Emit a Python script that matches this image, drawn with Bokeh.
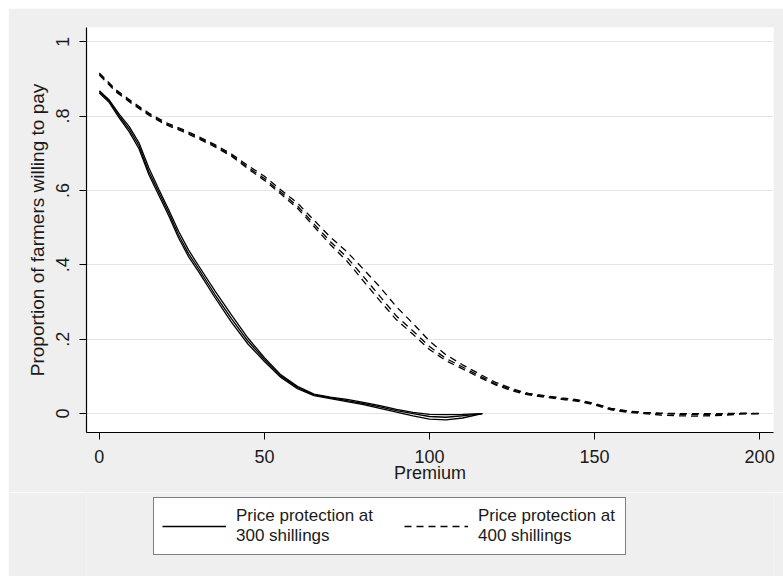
from bokeh.plotting import figure
from bokeh.layouts import column
from bokeh.models import FixedTicker, Legend, LegendItem, Range1d
from bokeh.embed import file_html
from bokeh.resources import INLINE

# ---- data ----
# Price protection at 300 shillings (three near-identical estimates)
x300 = [0, 3, 6, 9, 12, 15, 18, 21, 24, 27, 30, 35, 40, 45, 50, 55, 60, 65,
        70, 75, 80, 85, 90, 95, 100, 105, 110, 116]
y300_mid = [0.865, 0.840, 0.800, 0.765, 0.720, 0.650, 0.595, 0.540, 0.480, 0.430,
            0.390, 0.320, 0.255, 0.195, 0.145, 0.100, 0.070, 0.050, 0.042, 0.035,
            0.027, 0.018, 0.008, 0.000, -0.008, -0.010, -0.006, 0.000]
y300_hi = [0.868, 0.843, 0.805, 0.772, 0.728, 0.660, 0.603, 0.548, 0.490, 0.440,
           0.398, 0.330, 0.265, 0.203, 0.150, 0.104, 0.073, 0.052, 0.044, 0.038,
           0.030, 0.021, 0.011, 0.003, -0.002, -0.003, -0.002, 0.000]
y300_lo = [0.862, 0.836, 0.795, 0.758, 0.712, 0.642, 0.587, 0.532, 0.472, 0.422,
           0.382, 0.312, 0.246, 0.187, 0.140, 0.097, 0.067, 0.048, 0.040, 0.032,
           0.024, 0.014, 0.004, -0.006, -0.015, -0.017, -0.012, 0.000]

# Price protection at 400 shillings
x400 = [0, 5, 10, 15, 20, 25, 30, 35, 40, 45, 50, 55, 60, 65, 70, 75, 80, 85, 90,
        95, 100, 105, 110, 115, 120, 125, 130, 135, 140, 145, 150, 155, 160, 165,
        170, 175, 180, 185, 190, 195, 200]
y400_mid = [0.913, 0.868, 0.835, 0.805, 0.780, 0.762, 0.742, 0.720, 0.695, 0.662,
            0.632, 0.595, 0.558, 0.510, 0.462, 0.420, 0.368, 0.315, 0.262, 0.222,
            0.180, 0.148, 0.125, 0.102, 0.080, 0.064, 0.052, 0.046, 0.040, 0.035,
            0.025, 0.012, 0.005, 0.002, 0.000, -0.002, -0.003, -0.003, -0.002,
            0.000, 0.000]
y400_hi = [0.916, 0.871, 0.838, 0.808, 0.783, 0.765, 0.745, 0.723, 0.698, 0.667,
           0.638, 0.601, 0.566, 0.520, 0.474, 0.435, 0.388, 0.340, 0.287, 0.242,
           0.195, 0.158, 0.131, 0.107, 0.084, 0.067, 0.054, 0.048, 0.042, 0.037,
           0.027, 0.014, 0.007, 0.003, 0.001, 0.000, 0.000, 0.000, 0.000,
           0.001, 0.000]
y400_lo = [0.910, 0.865, 0.832, 0.802, 0.777, 0.759, 0.739, 0.717, 0.692, 0.658,
           0.627, 0.590, 0.552, 0.503, 0.454, 0.410, 0.356, 0.303, 0.252, 0.213,
           0.172, 0.142, 0.120, 0.098, 0.077, 0.061, 0.050, 0.044, 0.038, 0.033,
           0.023, 0.010, 0.003, 0.000, -0.004, -0.006, -0.007, -0.006, -0.004,
           -0.001, 0.000]

x_ticks = [0, 50, 100, 150, 200]
y_ticks = [0, 0.2, 0.4, 0.6, 0.8, 1.0]
y_tick_labels = ["0", ".2", ".4", ".6", ".8", "1"]

label_300 = "Price protection at\n300 shillings"
label_400 = "Price protection at\n400 shillings"
x_title = "Premium"
y_title = "Proportion of farmers willing to pay"

FONT = "Liberation Sans"
TXT = "#1a1a1a"
BG = "#efefef"
SOLID = dict(line_color="black", line_width=1.3)
DASHED = dict(line_color="black", line_width=1.3, line_dash="7 5")

p = figure(width=775, height=484, x_range=(-3.9, 204.2), y_range=(-0.051, 1.038),
           output_backend="svg", toolbar_location=None,
           min_border_left=78, min_border_right=10, min_border_top=19,
           min_border_bottom=60)
p.background_fill_color = "white"
p.border_fill_color = BG
p.outline_line_color = None

for ys in (y300_lo, y300_mid, y300_hi):
    p.line(x300, ys, **SOLID)
for ys in (y400_lo, y400_mid, y400_hi):
    p.line(x400, ys, **DASHED)

# axes
p.xaxis.ticker = FixedTicker(ticks=x_ticks)
p.yaxis.ticker = FixedTicker(ticks=y_ticks)
p.yaxis.major_label_overrides = {t: s for t, s in zip(y_ticks, y_tick_labels)}
p.yaxis.major_label_orientation = "vertical"
for ax in (p.xaxis, p.yaxis):
    ax.axis_line_color = "black"
    ax.axis_line_width = 1.2
    ax.major_tick_line_color = "black"
    ax.major_tick_in = 0
    ax.major_tick_out = 7
    ax.minor_tick_line_color = None
    ax.major_label_text_font = FONT
    ax.major_label_text_font_size = "18px"
    ax.major_label_text_color = TXT
    ax.axis_label_text_font = FONT
    ax.axis_label_text_font_style = "normal"
    ax.axis_label_text_color = TXT
p.xaxis.axis_label = x_title
p.yaxis.axis_label = y_title
p.xaxis.axis_label_text_font_size = "18px"
p.yaxis.axis_label_text_font_size = "19px"
p.xaxis.major_label_standoff = 10
p.yaxis.major_label_standoff = 10
p.xaxis.axis_label_standoff = -3
p.yaxis.axis_label_standoff = 6

p.xgrid.grid_line_color = None
p.ygrid.grid_line_color = "#e4e4e4"
p.ygrid.grid_line_width = 1

# legend strip below the plot (same grey background); its key renderers
# carry the series data but lie outside this strip's view
q = figure(width=775, height=84, x_range=Range1d(-400, -300), y_range=Range1d(-400, -300),
           output_backend="svg", toolbar_location=None,
           min_border=0, min_border_left=0, min_border_right=0,
           min_border_top=0, min_border_bottom=0)
q.axis.visible = False
q.grid.visible = False
q.background_fill_color = BG
q.border_fill_color = BG
q.outline_line_color = None
k1 = q.line(x300, y300_mid, **SOLID)
k2 = q.line(x400, y400_mid, **DASHED)

legend = Legend(items=[LegendItem(label=label_300, renderers=[k1]),
                       LegendItem(label=label_400, renderers=[k2])],
                orientation="horizontal", location=(67, 21))
legend.border_line_color = "black"
legend.border_line_width = 1
legend.background_fill_color = "white"
legend.background_fill_alpha = 1
legend.padding = 8
legend.margin = 0
legend.spacing = 29
legend.glyph_width = 64
legend.glyph_height = 20
legend.label_standoff = 10
legend.label_width = 139
legend.label_text_font = FONT
legend.label_text_font_size = "17px"
legend.label_text_color = TXT
legend.label_text_line_height = 1.2
q.add_layout(legend)

root = column(p, q, spacing=0)
root.margin = (8, 0, 0, 8)

open("out.html", "w").write(file_html(root, INLINE))
